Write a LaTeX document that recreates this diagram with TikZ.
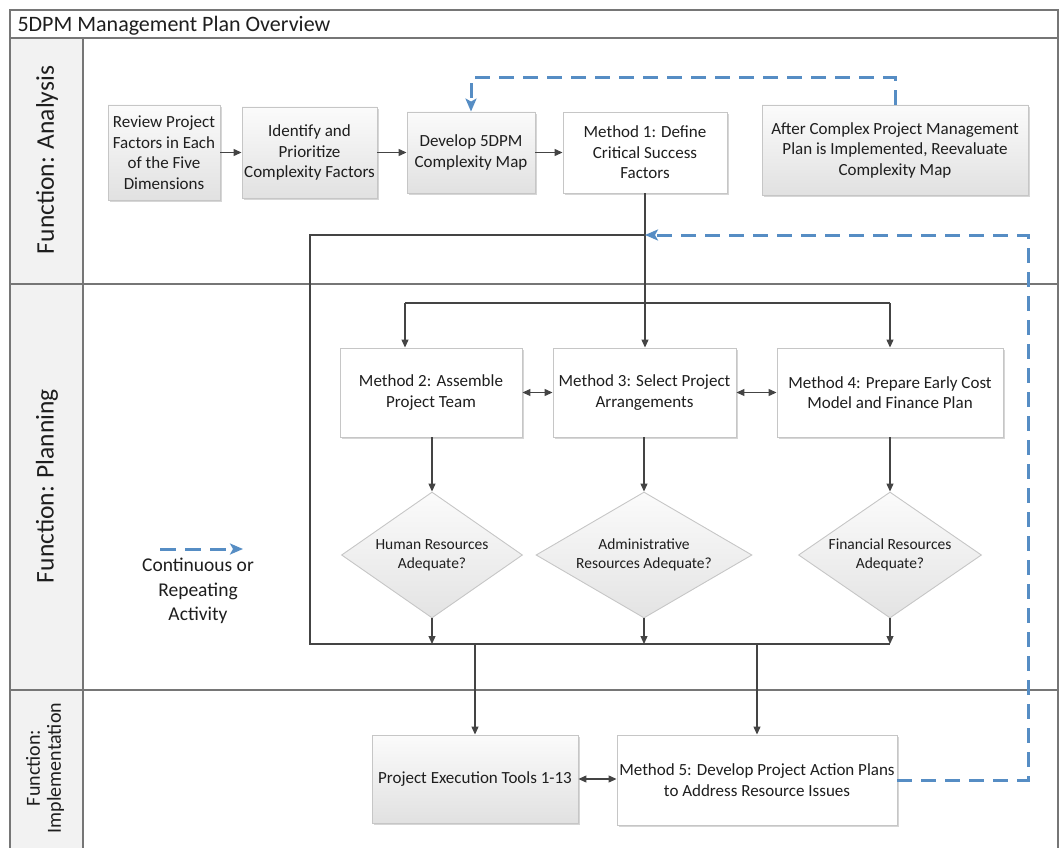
\documentclass[tikz,border=0pt]{standalone}
\usepackage{fontspec}
\setmainfont{Carlito}
\usetikzlibrary{arrows.meta,shapes.geometric,shadings,shadows}

\definecolor{lanegray}{RGB}{118,118,118}
\definecolor{linkgray}{RGB}{68,68,68}
\definecolor{boxedge}{RGB}{198,198,198}
\definecolor{boxtop}{RGB}{251,251,251}
\definecolor{boxbot}{RGB}{225,225,225}
\definecolor{repeatblue}{RGB}{86,141,196}
\definecolor{txt}{RGB}{30,30,30}
\definecolor{lanefill}{RGB}{242,242,242}

\begin{document}
\begin{tikzpicture}[x=1pt,y=-1pt,
  stepbase/.style={draw=boxedge, line width=0.9pt, inner sep=0pt, align=center,
    text=txt, font=\fontsize{17}{20.5}\selectfont,
    drop shadow={shadow xshift=1.6pt, shadow yshift=-1.6pt, opacity=0.16, fill=black}},
  graybox/.style={stepbase, top color=boxtop, bottom color=boxbot},
  whitebox/.style={stepbase, fill=white},
  decision/.style={diamond, draw=boxedge, line width=0.9pt, inner sep=0pt,
    top color=boxtop, bottom color=boxbot!92!white},
  decisiontext/.style={align=center, text=txt, inner sep=0pt,
    font=\fontsize{15.5}{19}\selectfont},
  lanelabel/.style={rotate=90, text=txt, align=center},
  wire/.style={draw=linkgray, line width=1.2pt},
  link/.style={wire, -{Triangle[length=8pt,width=7pt]}},
  bilink/.style={wire, {Triangle[length=8pt,width=7pt]}-{Triangle[length=8pt,width=7pt]}},
  repeatline/.style={draw=repeatblue, line width=3pt, dash pattern=on 15pt off 9pt,
    -{Stealth[length=13pt,width=11pt,inset=3pt]}},
  laneline/.style={draw=lanegray, line width=1.3pt}
]
\useasboundingbox (0,0) rectangle (1060,848);

% ---- swimlane frame ----
\fill[lanefill] (10,38) rectangle (83,848);
\draw[laneline] (10,848) -- (10,10) -- (1058,10) -- (1058,848);
\draw[laneline] (10,38) -- (1058,38);
\draw[laneline] (83,38) -- (83,848);
\draw[laneline] (10,284) -- (1058,284);
\draw[laneline] (10,690) -- (1058,690);

\node[anchor=base west, text=txt, font=\fontsize{22}{26}\selectfont] (title) at (14,32) {5DPM Management Plan Overview};
\node[lanelabel, font=\fontsize{25.5}{30}\selectfont] (laneA) at (47,160) {Function: Analysis};
\node[lanelabel, font=\fontsize{25.5}{30}\selectfont] (laneP) at (47,486) {Function: Planning};
\node[lanelabel, font=\fontsize{20}{21}\selectfont] (laneI) at (45,768) {Function:\\Implementation};

% ---- analysis ----
\node[graybox, minimum width=112pt, minimum height=95pt] (rev) at (164,152.5) {Review Project\\Factors in Each\\of the Five\\Dimensions};
\node[graybox, minimum width=135pt, minimum height=91pt] (idf) at (309.5,152.5) {Identify and\\Prioritize\\Complexity Factors};
\node[graybox, minimum width=128pt, minimum height=81pt] (dev) at (471,152.5) {Develop 5DPM\\Complexity Map};
\node[whitebox, minimum width=164pt, minimum height=81pt] (m1) at (645,152.5) {Method 1: Define\\Critical Success\\Factors};
\node[graybox, minimum width=266pt, minimum height=90pt] (aft) at (895,150) {After Complex Project Management\\Plan is Implemented, Reevaluate\\Complexity Map};

% ---- planning ----
\node[whitebox, minimum width=182pt, minimum height=89pt] (m2) at (431,392.5) {Method 2: Assemble\\Project Team};
\node[whitebox, minimum width=183pt, minimum height=89pt] (m3) at (644.5,392.5) {Method 3: Select Project\\Arrangements};
\node[whitebox, minimum width=226pt, minimum height=89pt] (m4) at (890,392.5) {Method 4: Prepare Early Cost\\Model and Finance Plan};

\node[decision, minimum width=181pt, minimum height=126pt] (d1) at (432,555) {};
\node[decision, minimum width=216pt, minimum height=126pt] (d2) at (644,555) {};
\node[decision, minimum width=183pt, minimum height=126pt] (d3) at (890,555) {};
\node[decisiontext] (d1t) at (d1.center) {Human Resources\\Adequate?};
\node[decisiontext] (d2t) at (d2.center) {Administrative\\Resources Adequate?};
\node[decisiontext] (d3t) at (d3.center) {Financial Resources\\Adequate?};

% ---- implementation ----
\node[graybox, minimum width=206pt, minimum height=88pt] (pet) at (475,779) {Project Execution Tools 1-13};
\node[whitebox, minimum width=280pt, minimum height=90pt] (m5) at (757,780) {Method 5: Develop Project Action Plans\\to Address Resource Issues};

% ---- legend ----
\coordinate (lg1) at (160,549);
\coordinate (lg2) at (243,549);
\draw[repeatline, dash pattern=on 16pt off 9pt] (lg1) -- (lg2);
\node[text=txt, align=center, font=\fontsize{19.5}{24.5}\selectfont] (lgtxt) at (198,591) {Continuous or\\Repeating\\Activity};

% ---- analysis flow ----
\draw[link] (rev.east) -- (idf.west);
\draw[link] (idf.east) -- (dev.west);
\draw[link] (dev.east) -- (m1.west);

% ---- distribution to methods 2-4 ----
\coordinate (fl) at (405,303);
\coordinate (fr) at (890,303);
\draw[wire] (fl) -- (fr);
\draw[link] (m1.south) -- (m1.south |- m3.north);
\draw[link] (fl) -- (fl |- m2.north);
\draw[link] (fr) -- (m4.north);
\draw[bilink] (m2.east) -- (m3.west);
\draw[bilink] (m3.east) -- (m4.west);

% ---- methods to decisions ----
\draw[link] (m2.south -| d1.north) -- (d1.north);
\draw[link] (m3.south -| d2.north) -- (d2.north);
\draw[link] (m4.south) -- (d3.north);

% ---- collector loop ----
\coordinate (la) at (645,235);
\coordinate (lb) at (310,235);
\coordinate (lc) at (310,644);
\coordinate (ld) at (890,644);
\draw[wire] (la) -- (lb) -- (lc) -- (ld);
\draw[link] (d1.south) -- (d1.south |- lc);
\draw[link] (d2.south) -- (d2.south |- lc);
\draw[link] (d3.south) -- (d3.south |- lc);

% ---- to implementation ----
\coordinate (ia) at (475,644);
\coordinate (ib) at (757,644);
\draw[link] (ia) -- (pet.north);
\draw[link] (ib) -- (m5.north);
\draw[bilink] (pet.east) -- (pet.east -| m5.west);

% ---- repeating activities ----
\coordinate (rtop) at (0,78);
\coordinate (rc) at (1028,235);
\draw[repeatline] (aft.north) -- (aft.north |- rtop) -| (dev.north);
\draw[repeatline] (m5.east) -| (rc) -- (la);
\end{tikzpicture}
\end{document}
